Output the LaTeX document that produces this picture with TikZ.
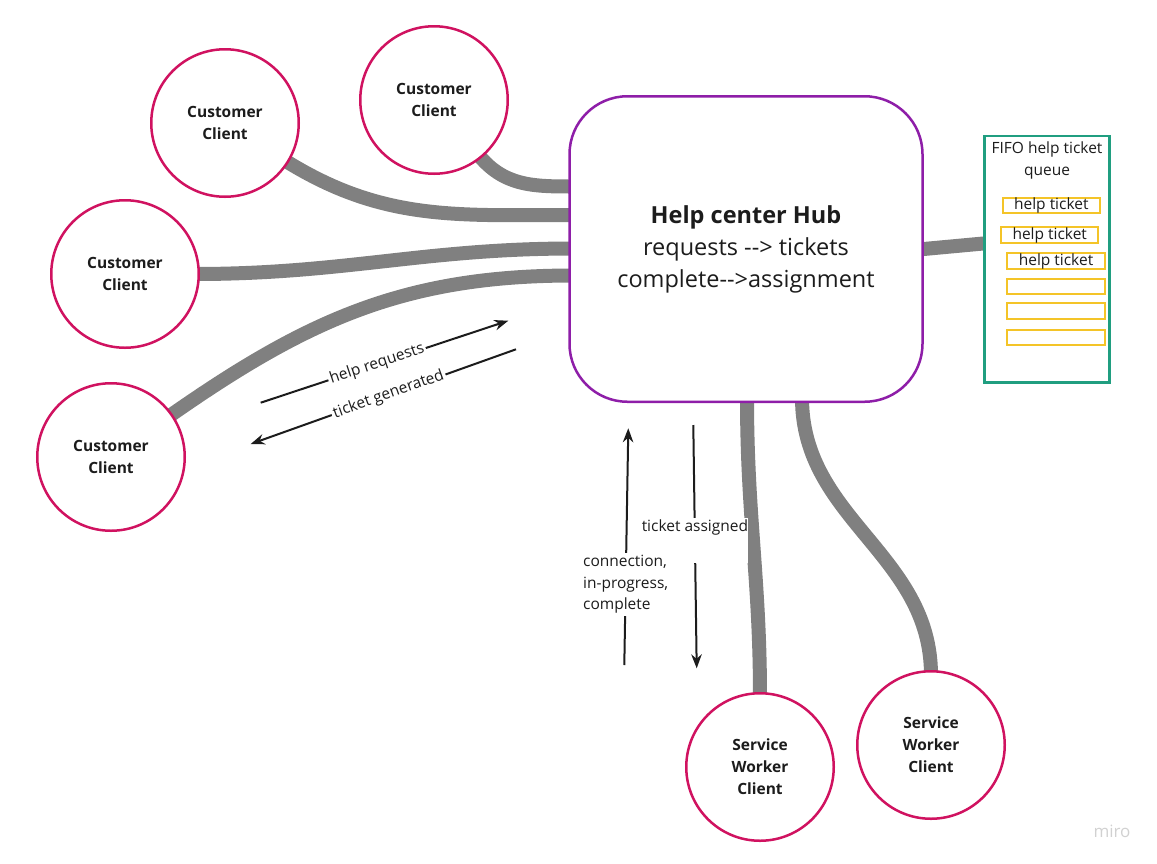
\documentclass[tikz,border=0pt]{standalone}
\usepackage{fontspec}
\setmainfont{Open Sans}
\usetikzlibrary{positioning,arrows.meta,backgrounds}
\definecolor{clientred}{RGB}{208,18,96}
\definecolor{hubpurple}{RGB}{142,30,168}
\definecolor{queueteal}{RGB}{32,158,128}
\definecolor{ticketyellow}{RGB}{244,196,40}
\definecolor{pipegray}{RGB}{128,128,128}
\definecolor{inkblack}{RGB}{28,28,28}

\begin{document}
\begin{tikzpicture}[x=1pt,y=1pt,font=\fontsize{15.5}{21.7}\selectfont,text=inkblack,
  >={Stealth[length=14pt,width=10.5pt]},
  client/.style={circle,draw=clientred,line width=2.5pt,fill=white,minimum size=147.5pt,align=center,font=\fontsize{15.5}{22}\selectfont\bfseries},
  hub/.style={draw=hubpurple,line width=2.5pt,fill=white,rounded corners=58pt,minimum width=353pt,minimum height=305.5pt,align=center,font=\fontsize{23.5}{32}\selectfont},
  queue/.style={draw=queueteal,line width=2.5pt,fill=white,minimum width=125pt,minimum height=246.5pt},
  ticket/.style={draw=ticketyellow,line width=2pt,minimum width=97.5pt,minimum height=15.5pt,inner sep=0pt},
  pipe/.style={color=pipegray,line width=14pt,shorten <=-5pt,shorten >=-5pt},
  flow/.style={line width=2pt,color=inkblack},
  lbl/.style={fill=white,inner sep=2pt}]
\useasboundingbox (0,0) rectangle (1157,-863);

\node[hub] (hub) at (746,-249) {\textbf{Help center Hub}\\requests \mbox{-}\mbox{-}> tickets\\complete\mbox{-}\mbox{-}>assignment};
\node[client] (c_1) at (225,-123) {Customer\\Client};
\node[client] (c_2) at (434,-100) {Customer\\Client};
\node[client] (c_3) at (125,-274) {Customer\\Client};
\node[client] (c_4) at (111,-457) {Customer\\Client};
\node[client] (w_1) at (760,-767) {Service\\Worker\\Client};
\node[client] (w_2) at (931,-745) {Service\\Worker\\Client};

\node[queue] (queue) at (1047,-259) {};
\node[align=center] (fifo) at (1047,-160.5) {FIFO help ticket\\queue};
\node[ticket] (t_1) at (1051.3,-205.5) {help ticket};
\node[ticket] (t_2) at (1049.7,-235) {help ticket};
\node[ticket] (t_3) at (1056,-261) {help ticket};
\node[ticket] (t_4) at (1056,-286.3) {};
\node[ticket] (t_5) at (1056,-311) {};
\node[ticket] (t_6) at (1056,-337.7) {};

\node[text=black!18,font=\fontsize{17}{20}\selectfont] (miro) at (1112,-831) {miro};

% free ends of the flow arrows
\coordinate (hr_a) at (260.7,-402.7);
\coordinate (hr_b) at (508.3,-320.7);
\coordinate (tg_a) at (516,-349.3);
\coordinate (tg_b) at (250.7,-444);
\coordinate (up_a) at (624.3,-665);
\coordinate (up_b) at (628.3,-428.3);
\coordinate (dn_a) at (693.3,-425);
\coordinate (dn_b) at (696.7,-668.3);

% where the pipes meet the hub
\coordinate (h_1) at (hub.west |- 0,-186.5);
\coordinate (h_2) at (hub.west |- 0,-215);
\coordinate (h_3) at (hub.west |- 0,-248.5);
\coordinate (h_4) at (hub.west |- 0,-275.5);
\coordinate (h_5) at (hub.south -| 747,0);
\coordinate (h_6) at (hub.south -| 802,0);
\coordinate (q_in) at (queue.west |- 0,-243.5);

\begin{scope}[on background layer]
\path[pipe]
  (c_2.-51) edge[out=-51,in=180] (h_1)
  (c_1.-32) edge[out=-32,in=180] (h_2)
  (c_3.east) edge[out=0,in=180] (h_3)
  (c_4.35) edge[out=35,in=180] (h_4)
  (h_5) edge[out=-90,in=90] (w_1.north)
  (h_6) edge[out=-90,in=90] (w_2.north)
  (hub.east) edge (q_in);
\path[->,flow]
  (hr_a) edge node[lbl,sloped,pos=0.47] {help requests} (hr_b)
  (tg_a) edge node[lbl,sloped,pos=0.48] {ticket generated} (tg_b)
  (dn_a) edge node[lbl,pos=0.4735,inner xsep=0pt,text depth=28.9pt] {ticket assigned} (dn_b)
  (up_a) edge node[lbl,pos=0.341,align=left] {connection,\\in-progress,\\complete} (up_b);
\end{scope}
\end{tikzpicture}
\end{document}
